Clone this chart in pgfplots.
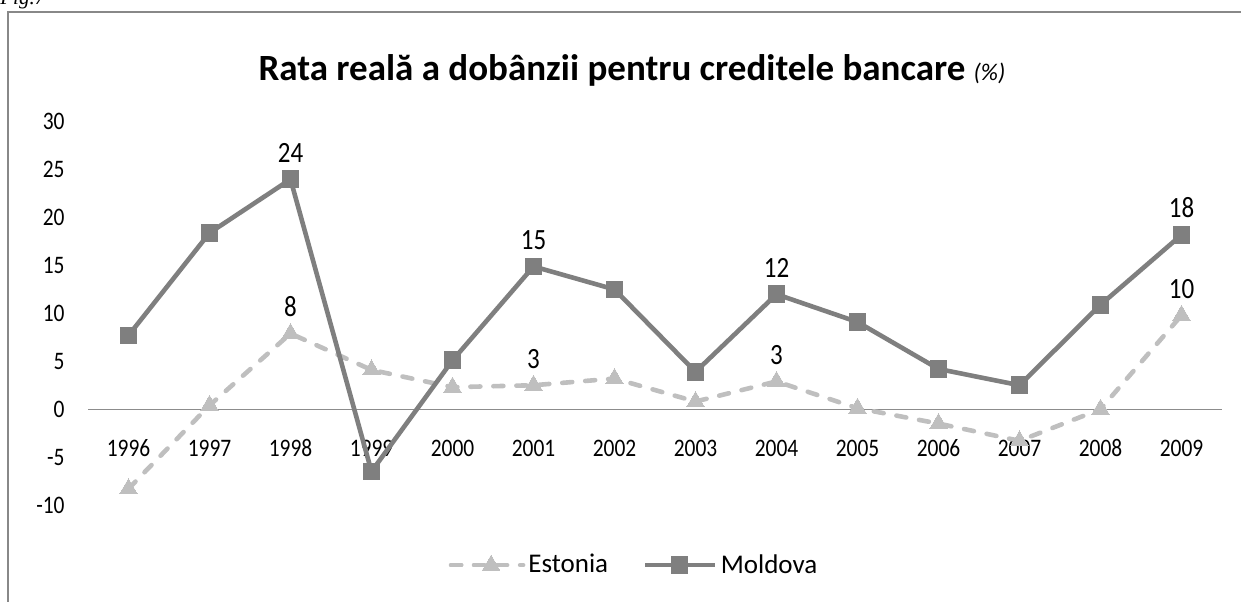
\documentclass[border=0pt]{standalone}
\usepackage{pgfplots}
\pgfplotsset{compat=1.18}
\usepackage{fontspec}
\setmainfont{Carlito}
\newfontfamily\narrowfont{Carlito}[FakeStretch=0.85]
\newfontfamily\timesfont{Liberation Serif}
\definecolor{mold}{HTML}{7F7F7F}
\definecolor{est}{HTML}{BFBFBF}
\definecolor{framec}{HTML}{888888}
\definecolor{zeroc}{HTML}{8C8C8C}
\pgfplotsset{
  estleg/.style={legend image code/.code={
    \draw[##1, mark=none] (0pt,0pt) -- (27.5pt,0pt);
    \draw[##1] plot coordinates {(20pt,0pt)};
    \path (0pt,0pt) -- (36pt,0pt);}},
  moldleg/.style={legend image code/.code={
    \draw[##1, mark=none] (0pt,0pt) -- (35pt,0pt);
    \draw[##1] plot coordinates {(17pt,0pt)};}},
}
\begin{document}
\begin{tikzpicture}[x=1pt,y=1pt]
\useasboundingbox (0,0) rectangle (620.5,300.5);
\node[anchor=base west, inner sep=0pt, font=\timesfont\itshape\fontsize{10.5}{12}\selectfont] at (0,298) {Fig.7};
\draw[framec, line width=1pt] (4,-10) -- (4,294.5) -- (630,294.5);
\node[anchor=base, inner sep=0pt] at (316,260) {\fontsize{18.5}{22}\selectfont\bfseries Rata reală a dobânzii pentru creditele bancare \fontsize{12}{14}\selectfont\mdseries\itshape (\%)};
\begin{axis}[
  at={(44pt,48pt)}, anchor=south west,
  width=567pt, height=191.6pt, scale only axis,
  xmin=-0.5, xmax=13.5, ymin=-10, ymax=30,
  xtick={0,1,2,3,4,5,6,7,8,9,10,11,12,13},
  xticklabels={1996,1997,1998,1999,2000,2001,2002,2003,2004,2005,2006,2007,2008,2009},
  ytick={-10,-5,0,5,10,15,20,25,30},
  axis line style={draw=none},
  tick style={draw=none},
  /pgf/number format/assume math mode=true,
  ticklabel style={font=\narrowfont\fontsize{12.6}{14}\selectfont},
  xticklabel style={anchor=center, inner sep=0pt, yshift=28.3pt},
  yticklabel style={anchor=east, inner sep=0pt, xshift=-11.5pt},
  clip=false,
  legend columns=2,
  legend style={draw=none, fill=none, at={(0.482,-0.157)}, anchor=center,
    font=\fontsize{13.5}{15}\selectfont,
    /tikz/every even column/.append style={column sep=16pt},
    nodes={inner sep=1.5pt}},
]
\draw[zeroc, line width=0.6pt] (axis cs:-0.5,0) -- (axis cs:13.5,0);
\addplot[est, line width=2.3pt, line cap=round, dash pattern=on 5pt off 6.5pt,
  mark=triangle*, mark size=5pt, mark options={solid, fill=est, draw=est, line width=0pt},
  point meta=explicit symbolic, estleg,
  nodes near coords, nodes near coords style={anchor=south, inner sep=0pt, yshift=8.5pt, text=black, font=\narrowfont\fontsize{14.7}{16}\selectfont},
] coordinates {
(0,-8.3)[{}] (1,0.4)[{}] (2,7.9)[8] (3,4.1)[{}] (4,2.3)[{}] (5,2.5)[3] (6,3.2)[{}]
(7,0.8)[{}] (8,2.9)[3] (9,0.1)[{}] (10,-1.5)[{}] (11,-3.3)[{}] (12,0.0)[{}] (13,9.8)[10]
};
\addlegendentry{Estonia}
\addplot[mold, line width=2.3pt, line join=round,
  mark=square*, mark size=4.2pt, mark options={solid, fill=mold, draw=mold, line width=0pt},
  point meta=explicit symbolic, moldleg,
  nodes near coords, nodes near coords style={anchor=south, inner sep=0pt, yshift=8.5pt, text=black, font=\narrowfont\fontsize{14.7}{16}\selectfont},
] coordinates {
(0,7.7)[{}] (1,18.4)[{}] (2,24.0)[24] (3,-6.5)[{}] (4,5.1)[{}] (5,14.9)[15] (6,12.5)[{}]
(7,3.9)[{}] (8,12.0)[12] (9,9.1)[{}] (10,4.2)[{}] (11,2.5)[{}] (12,10.9)[{}] (13,18.2)[18]
};
\addlegendentry{Moldova}
\end{axis}
\end{tikzpicture}
\end{document}
